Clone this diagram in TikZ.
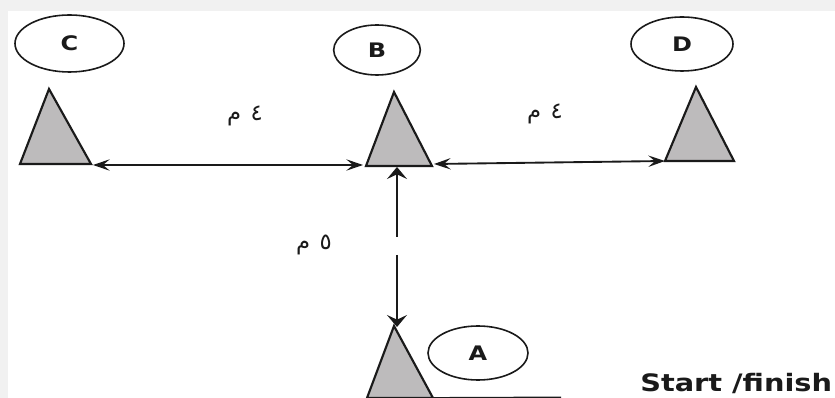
\documentclass[tikz,border=0pt]{standalone}
\usepackage{graphicx}
\usepackage{fontspec}
\setmainfont{DejaVu Sans}
\newfontfamily\arabicfont[Script=Arabic]{DejaVu Sans}
\TeXXeTstate=1
\usetikzlibrary{arrows.meta,shapes.geometric}
\definecolor{inkc}{HTML}{1A1A1A}
\definecolor{tri}{HTML}{BDBBBC}
\definecolor{band}{HTML}{F1F1F1}
\newcommand{\widelet}[1]{\scalebox{1.2}[1]{#1}}
\tikzset{
  x=0.75pt,y=-0.75pt,
  hz/.tip={Stealth[length=12.5pt,width=8.5pt,inset=5pt]},
  vt/.tip={Stealth[length=9pt,width=15pt,inset=3.5pt]},
  label ell/.style={draw=inkc,line width=1.2pt,ellipse,inner sep=0pt,fill=white,text=inkc,font=\fontsize{15}{15}\selectfont\bfseries},
  cone/.style={draw=inkc,fill=tri,line width=1.6pt,line join=miter},
  link/.style={draw=inkc,line width=1.4pt},
  dist/.style={text=inkc,font=\arabicfont\fontsize{17}{17}\selectfont,inner sep=0pt},
}
\begin{document}
\begin{tikzpicture}
\useasboundingbox (0,0) rectangle (835,398);
\clip (0,0) rectangle (835,398);
\fill[white] (0,0) rectangle (835,398);
\fill[band] (0,0) rectangle (835,11);
\fill[band] (0,0) rectangle (8,398);
% named corners
\coordinate (Ctop) at (49,89); \coordinate (Cl) at (20,164); \coordinate (Cr) at (91,164);
\coordinate (Btop) at (394,92); \coordinate (Bl) at (366,166); \coordinate (Br) at (432,166);
\coordinate (Dtop) at (696,87); \coordinate (Dl) at (665,161); \coordinate (Dr) at (734,161);
\coordinate (Atop) at (394,326); \coordinate (Al) at (367,398); \coordinate (Ar) at (433,398);
\coordinate (Cend) at (93,165); \coordinate (Bw) at (363,165); \coordinate (Be) at (434,164);
\coordinate (Bb) at (397,167); \coordinate (gapT) at (397,237); \coordinate (gapB) at (397,255); \coordinate (Ab) at (397,327);
\coordinate (ground) at (561,397.5);
\draw[cone] (Ctop) -- (Cl) -- (Cr) -- cycle;
\draw[cone] (Btop) -- (Bl) -- (Br) -- cycle;
\draw[cone] (Dtop) -- (Dl) -- (Dr) -- cycle;
\draw[cone] (Atop) -- (Al) -- (Ar) -- cycle;
\draw[link] (Ar) -- (ground);
\node[label ell,minimum width=81.75pt,minimum height=42.75pt] (C) at (69.5,43.5) {\widelet{C}};
\node[label ell,minimum width=65pt,minimum height=37.5pt] (B) at (377,50) {\widelet{B}};
\node[label ell,minimum width=76.5pt,minimum height=40.5pt] (D) at (682,44) {\widelet{D}};
\node[label ell,minimum width=75pt,minimum height=40.5pt] (A) at (478,353) {\widelet{A}};
\draw[link,{hz}-{hz}] (Cend) -- (Bw);
\draw[link,{hz}-{hz}] (Be) -- (Dl);
\draw[link,{vt}-] (Bb) -- (gapT);
\draw[link,-{vt}] (gapB) -- (Ab);
\node[dist] (dl) at (245,116) {\beginR ٤\hspace{7pt}م\endR};
\node[dist] (dr) at (545,114) {\beginR ٤\hspace{7pt}م\endR};
\node[dist] (dv) at (314,245) {\beginR ٥\hspace{7pt}م\endR};
\node[anchor=base west,inner sep=0pt,text=inkc,font=\fontsize{18}{18}\selectfont\bfseries] (sf) at (640,392) {\scalebox{1.2}[1]{Start /finish}};
\end{tikzpicture}
\end{document}
